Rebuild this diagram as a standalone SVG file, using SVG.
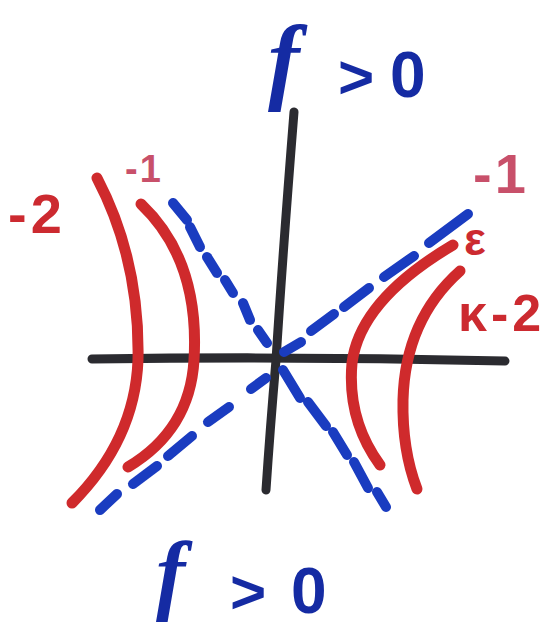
<svg xmlns="http://www.w3.org/2000/svg" width="558" height="629" viewBox="0 0 558 629">
<style>
.axis{fill:none;stroke:#2b2b30;stroke-width:9;stroke-linecap:round;stroke-linejoin:round}
.curve{fill:none;stroke:#cf2a2c;stroke-width:11;stroke-linecap:round;stroke-linejoin:round}
.dash{stroke:#1a3cc0;stroke-width:10;stroke-linecap:round}
.title{font-family:"Liberation Sans",Arial,sans-serif;font-weight:bold;fill:#152ba3}
.fsym{font-family:"Liberation Serif","Times New Roman",serif;font-style:italic;font-weight:bold;fill:#152ba3}
.red{font-family:"Liberation Sans",Arial,sans-serif;font-weight:bold;fill:#cc2a30}
.pink{font-family:"Liberation Sans",Arial,sans-serif;font-weight:bold;fill:#c8506a}
</style>
<rect width="558" height="629" fill="#ffffff"/>
<g id="axes">
<path class="axis" d="M92,359 Q300,356 505,361"/>
<path class="axis" d="M294,112 Q283,250 276,360 Q270,430 266,490"/>
</g>
<g id="asymptotes">
<line class="dash" x1="173" y1="203" x2="187" y2="220"/>
<line class="dash" x1="190" y1="227" x2="200" y2="247"/>
<line class="dash" x1="207" y1="257" x2="217" y2="273"/>
<line class="dash" x1="225" y1="280" x2="233" y2="293"/>
<line class="dash" x1="243" y1="303" x2="250" y2="320"/>
<line class="dash" x1="258" y1="330" x2="267" y2="343"/>
<line class="dash" x1="283" y1="370" x2="300" y2="398"/>
<line class="dash" x1="308" y1="402" x2="326" y2="426"/>
<line class="dash" x1="333" y1="432" x2="347" y2="455"/>
<line class="dash" x1="354" y1="462" x2="368" y2="488"/>
<line class="dash" x1="377" y1="492" x2="386" y2="507"/>
<line class="dash" x1="100" y1="510" x2="117" y2="494"/>
<line class="dash" x1="133" y1="484" x2="157" y2="466"/>
<line class="dash" x1="168" y1="456" x2="192" y2="436"/>
<line class="dash" x1="208" y1="422" x2="229" y2="407"/>
<line class="dash" x1="251" y1="389" x2="266" y2="378"/>
<line class="dash" x1="284" y1="352" x2="301" y2="342"/>
<line class="dash" x1="311" y1="331" x2="334" y2="314"/>
<line class="dash" x1="344" y1="307" x2="369" y2="288"/>
<line class="dash" x1="384" y1="277" x2="414" y2="256"/>
<line class="dash" x1="429" y1="243" x2="468" y2="214"/>
</g>
<g id="curves">
<path class="curve" d="M97,178 Q140,260 138,360 Q135,440 72,503"/>
<path class="curve" d="M141,204 Q200,260 194,360 Q190,430 128,467"/>
<path class="curve" d="M453,245 Q360,300 352,363 Q347,420 380,465"/>
<path class="curve" d="M460,271 Q405,320 403,400 Q402,450 417,489"/>
</g>
<g id="labels">
<text x="268" y="92" class="fsym" font-size="95">f</text>
<text x="338" y="98" class="title" font-size="62">&gt;</text>
<text x="390" y="97" class="title" font-size="64">0</text>
<text x="156" y="603" class="fsym" font-size="88">f</text>
<text x="230" y="613" class="title" font-size="62">&gt;</text>
<text x="291" y="613" class="title" font-size="64">0</text>
<text x="8" y="233" class="red" font-size="56" letter-spacing="4">-2</text>
<text x="125" y="182" class="pink" font-size="38" letter-spacing="2">-1</text>
<text x="473" y="193" class="pink" font-size="56" letter-spacing="3">-1</text>
<text x="464" y="255" class="red" font-size="46">ε</text>
<text x="458" y="331" class="red" font-size="52" letter-spacing="4">κ-2</text>
</g>
</svg>
